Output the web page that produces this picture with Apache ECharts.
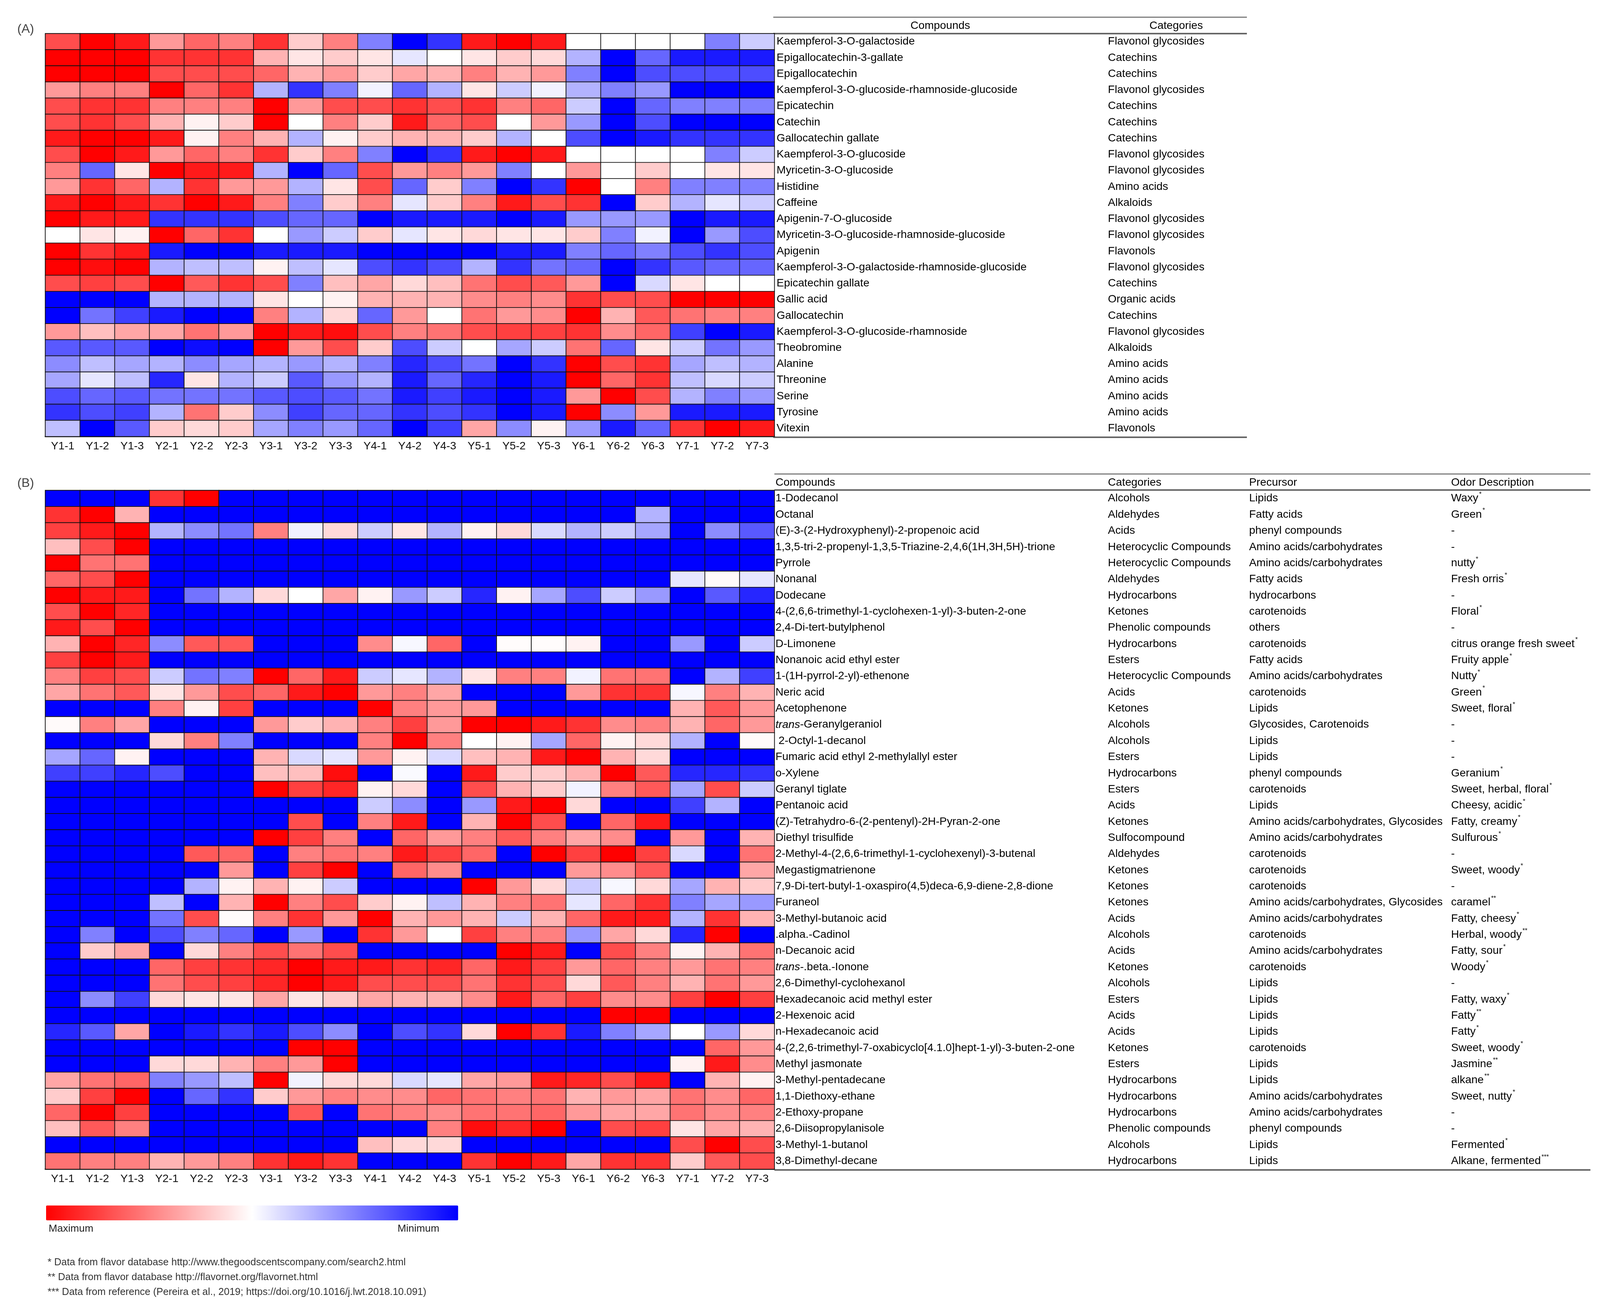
<!DOCTYPE html>
<html>
<head>
<meta charset="utf-8">
<script src="https://cdn.jsdelivr.net/npm/echarts@6/dist/echarts.min.js"></script>
<style>
html,body{margin:0;padding:0;background:#fff;overflow:hidden;}
#chart{position:absolute;left:0;top:0;}
</style>
</head>
<body>
<div id="chart"></div>
<script>
const sampleLabels = ['Y1-1','Y1-2','Y1-3','Y2-1','Y2-2','Y2-3','Y3-1','Y3-2','Y3-3','Y4-1','Y4-2','Y4-3','Y5-1','Y5-2','Y5-3','Y6-1','Y6-2','Y6-3','Y7-1','Y7-2','Y7-3'];

const compoundsA = ['Kaempferol-3-O-galactoside','Epigallocatechin-3-gallate','Epigallocatechin','Kaempferol-3-O-glucoside-rhamnoside-glucoside','Epicatechin','Catechin','Gallocatechin gallate','Kaempferol-3-O-glucoside','Myricetin-3-O-glucoside','Histidine','Caffeine','Apigenin-7-O-glucoside','Myricetin-3-O-glucoside-rhamnoside-glucoside','Apigenin','Kaempferol-3-O-galactoside-rhamnoside-glucoside','Epicatechin gallate','Gallic acid','Gallocatechin','Kaempferol-3-O-glucoside-rhamnoside','Theobromine','Alanine','Threonine','Serine','Tyrosine','Vitexin'];

const categoriesA = ['Flavonol glycosides','Catechins','Catechins','Flavonol glycosides','Catechins','Catechins','Catechins','Flavonol glycosides','Flavonol glycosides','Amino acids','Alkaloids','Flavonol glycosides','Flavonol glycosides','Flavonols','Flavonol glycosides','Catechins','Organic acids','Catechins','Flavonol glycosides','Alkaloids','Amino acids','Amino acids','Amino acids','Amino acids','Flavonols'];

// relative level: +10 = maximum (red), -10 = minimum (blue)
const valuesA = [
 [7,10,9,4,6,5,8,2,5,-5,-10,-8,9,10,9,0,0,0,0,-5,-2],
 [10,10,10,8,8,8,3,1,2,1,-1,0,1,2,1.5,-3,-10,-6,-9,-9,-9],
 [10,10,10,7,7,7,6,3,4,2,3.5,3,5,3,4,-5,-10,-7,-7,-7,-7],
 [4,5,5,10,6,8,-3,-8,-5,-0.5,-6,-3,1,-2,-0.5,-3,-5,-4,-10,-10,-10],
 [7,8,8,5,5,5,10,4,7,7,8,7,8,5,6,-2,-10,-6,-5,-5,-5],
 [7,8,7,3,0.5,2,10,0,5,2,9,6,7,0,4,-4,-10,-7,-10,-10,-10],
 [9,10,10,9,0.5,5,3,-3,0.5,2,3,3,2,-3,0,-7,-10,-9,-8,-8,-8],
 [7,10,9,4,6,5,8,2,5,-5,-10,-8,9,10,9,0,0,0,0,-5,-2],
 [5,-6,1,10,9,9,-3,-10,-6,7,4,5,4,-5,0,4,0,2,0,1,1],
 [4,8,6,-3,8,4,4,-3,1,7,-6,2,-5,-10,-8,10,0,5,-5,-5,-5],
 [9,10,9,8,10,9,5,-5,2,5,-1,2,5,9,7,8,-10,2,-3,-1,-2],
 [10,9,9,-8,-8,-8,-7,-6,-6,-10,-9,-9,-9,-10,-9,-4,-4,-4,-10,-9,-9],
 [0,1,0.5,10,6,8,0,-4,-2,2,-1,1,1.5,1,1,2,-5,-0.5,-10,-4,-7],
 [10,8,9,-9,-10,-10,-9,-9,-9,-10,-10,-10,-10,-9,-9,-5,-6,-5,-7,-8,-7],
 [10,9.5,10,-3,-2.5,-2.5,0.5,-2.5,-1,-7,-8,-7,-3,-8,-5.5,-6,-10,-8,-6.5,-6,-6],
 [7,7.5,7,10,6.5,8,7,-5,2.5,3.5,1.5,2.5,5.5,7,6.5,4,-10,-1.5,1,0,0],
 [-10,-10,-10,-3,-3,-3,1,0,0.5,3,3,3,4.5,5,4.5,8,7,7,10,10,10],
 [-10,-5.5,-7.5,-9,-10,-10,5,-3,1.5,-6,4,0,5.5,4,4.5,10,3,6.5,5.5,5,5],
 [4,2.5,3.5,3.5,5.5,4,10,9,9.5,7,5,5.5,7,7.5,7.5,8,4.5,6,-7.5,-10,-9],
 [-6.5,-6.5,-6.5,-10,-9.5,-10,10,4,7,2,-7,-2,0,-3.5,-2,5.5,-6,1,-2,-5.5,-4],
 [-4.5,-2.5,-3.5,-3,-4.5,-3.5,-3,-4,-3,-5,-8.5,-7,-5.5,-10,-8,10,7,8,-3.5,-2.5,-3],
 [-3.5,-1,-2.5,-8.5,1,-3,-2,-6.5,-4,-3,-9,-6,-8.5,-10,-9,10,6,8,-2.5,-1.5,-2],
 [-7,-6,-6.5,-5.5,-5.5,-5.5,-6.5,-7,-6.5,-5.5,-9,-7.5,-9,-10,-9,4,10,7,-3,-5,-4],
 [-8,-7,-7.5,-3,5.5,2,-4.5,-7.5,-6,-6,-8,-7,-8,-10,-9,10,-4.5,4,-9,-9,-9],
 [-2.5,-10,-6.5,2,1.5,2,-3.5,-5,-4,-6,-10,-7.5,3.5,-4.5,0.5,-4,-9,-6,8,10,9]
];

const compoundsB = ['1-Dodecanol','Octanal','(E)-3-(2-Hydroxyphenyl)-2-propenoic acid','1,3,5-tri-2-propenyl-1,3,5-Triazine-2,4,6(1H,3H,5H)-trione','Pyrrole','Nonanal','Dodecane','4-(2,6,6-trimethyl-1-cyclohexen-1-yl)-3-buten-2-one','2,4-Di-tert-butylphenol','D-Limonene','Nonanoic acid ethyl ester','1-(1H-pyrrol-2-yl)-ethenone','Neric acid','Acetophenone','trans-Geranylgeraniol',' 2-Octyl-1-decanol','Fumaric acid ethyl 2-methylallyl ester','o-Xylene','Geranyl tiglate','Pentanoic acid','(Z)-Tetrahydro-6-(2-pentenyl)-2H-Pyran-2-one','Diethyl trisulfide','2-Methyl-4-(2,6,6-trimethyl-1-cyclohexenyl)-3-butenal','Megastigmatrienone','7,9-Di-tert-butyl-1-oxaspiro(4,5)deca-6,9-diene-2,8-dione','Furaneol','3-Methyl-butanoic acid','.alpha.-Cadinol','n-Decanoic acid','trans-.beta.-Ionone','2,6-Dimethyl-cyclohexanol','Hexadecanoic acid methyl ester','2-Hexenoic acid','n-Hexadecanoic acid','4-(2,2,6-trimethyl-7-oxabicyclo[4.1.0]hept-1-yl)-3-buten-2-one','Methyl jasmonate','3-Methyl-pentadecane','1,1-Diethoxy-ethane','2-Ethoxy-propane','2,6-Diisopropylanisole','3-Methyl-1-butanol','3,8-Dimethyl-decane'];

const categoriesB = ['Alcohols','Aldehydes','Acids','Heterocyclic Compounds','Heterocyclic Compounds','Aldehydes','Hydrocarbons','Ketones','Phenolic compounds','Hydrocarbons','Esters','Heterocyclic Compounds','Acids','Ketones','Alcohols','Alcohols','Esters','Hydrocarbons','Esters','Acids','Ketones','Sulfocompound','Aldehydes','Ketones','Ketones','Ketones','Acids','Alcohols','Acids','Ketones','Alcohols','Esters','Acids','Acids','Ketones','Esters','Hydrocarbons','Hydrocarbons','Hydrocarbons','Phenolic compounds','Alcohols','Hydrocarbons'];

const precursorsB = ['Lipids','Fatty acids','phenyl compounds','Amino acids/carbohydrates','Amino acids/carbohydrates','Fatty acids','hydrocarbons','carotenoids','others','carotenoids','Fatty acids','Amino acids/carbohydrates','carotenoids','Lipids','Glycosides, Carotenoids','Lipids','Lipids','phenyl compounds','carotenoids','Lipids','Amino acids/carbohydrates, Glycosides','Amino acids/carbohydrates','carotenoids','carotenoids','carotenoids','Amino acids/carbohydrates, Glycosides','Amino acids/carbohydrates','carotenoids','Amino acids/carbohydrates','carotenoids','Lipids','Lipids','Lipids','Lipids','carotenoids','Lipids','Lipids','Amino acids/carbohydrates','Amino acids/carbohydrates','phenyl compounds','Lipids','Lipids'];

const odorB = ['Waxy*','Green*','-','-','nutty*','Fresh orris*','-','Floral*','-','citrus orange fresh sweet*','Fruity apple*','Nutty*','Green*','Sweet, floral*','-','-','-','Geranium*','Sweet, herbal, floral*','Cheesy, acidic*','Fatty, creamy*','Sulfurous*','-','Sweet, woody*','-','caramel**','Fatty, cheesy*','Herbal, woody**','Fatty, sour*','Woody*','-','Fatty, waxy*','Fatty**','Fatty*','Sweet, woody*','Jasmine**','alkane**','Sweet, nutty*','-','-','Fermented*','Alkane, fermented***'];

const valuesB = [
 [-10,-10,-10,8,10,-10,-10,-10,-10,-10,-10,-10,-10,-10,-10,-10,-10,-10,-10,-10,-10],
 [8,10,3,-10,-10,-10,-10,-10,-10,-10,-10,-10,-10,-10,-10,-10,-10,-3,-10,-10,-10],
 [7.5,9,10,-3,-4.5,-5.5,5,-0.5,1.5,-2,1,-3,0.5,1.5,-1.5,-3,-2,-3.5,-10,-4.5,-6.5],
 [2.5,7,10,-10,-10,-10,-10,-10,-10,-10,-10,-10,-10,-10,-10,-10,-10,-10,-10,-10,-10],
 [10,5.5,5.5,-10,-10,-10,-10,-10,-10,-10,-10,-10,-10,-10,-10,-10,-10,-10,-10,-10,-10],
 [6,7,10,-10,-10,-10,-10,-10,-10,-10,-10,-10,-10,-10,-10,-10,-10,-10,-1,0.2,-1],
 [10,9,9,-10,-5.5,-3,1.5,0,3.5,0.5,-4,-2,-8.5,0.5,-3.5,-7,-2,-4,-10,-6.5,-8.5],
 [7,10,8.5,-10,-10,-10,-10,-10,-10,-10,-10,-10,-10,-10,-10,-10,-10,-10,-10,-10,-10],
 [9,7,10,-10,-10,-10,-10,-10,-10,-10,-10,-10,-10,-10,-10,-10,-10,-10,-10,-10,-10],
 [3,10,8.5,-4.5,6.5,6.5,-10,-10,-10,4.5,-0.3,6,-10,0.1,0.1,0.5,-10,-10,-4,-10,-2],
 [7.5,10,9,-10,-10,-10,-10,-10,-10,-10,-10,-10,-10,-10,-10,-10,-10,-10,-10,-10,-10],
 [5,7.5,7,-2,-5.5,-5,10,6,9,-2,-1,-3,1,5,5,-0.5,5.5,5.5,-10,-3,-7.5],
 [3.5,5.5,6.5,1,4,7,6,9,10,4,5,3.5,-10,-10,-10,4,8,8,-0.3,5,3],
 [-10,-10,-10,5,0.5,7.5,-10,-10,-10,10,5,4,4,-10,-10,-10,-10,-10,3,6.5,4],
 [0.2,5,3.5,-10,-10,-10,4,2,3,5,7.5,4,10,10,9,8,4.5,5,3,6,4],
 [-10,-10,-10,1.5,5,-5,-10,-10,-10,5,10,5,0,0.5,-3.5,6,0.5,1.5,-3,-10,0.2],
 [-3.5,-6,0.5,-10,-10,-10,3,-1.5,-1,4,0.5,-1.5,2.5,3,9,10,3,1.5,-10,-10,-10],
 [-7.5,-7.5,-8.5,-7,-10,-10,2.5,2.5,9.5,-10,-0.2,-10,9,2,2,3,10,6.5,-8.5,-8.5,-8],
 [-10,-10,-10,-10,-10,-10,10,7.5,8.5,0.5,1.5,-10,7,3,2,-0.5,5,6.5,-3.5,7,-2],
 [-10,-10,-10,-10,-10,-10,-10,-10,-10,-2,-4.5,-10,-4,9,10,1.5,-10,-10,-7.5,-3,-10],
 [-10,-10,-10,-10,-10,-10,-10,7,-10,5,9,-10,3,10,7,-10,6,9,-10,-10,-10],
 [-10,-10,-10,-10,-10,-10,10,7.5,5,-10,6,4,5,6.5,5,3.5,4.5,-10,4,-10,3],
 [-10,-10,-10,-10,6.5,6,-10,5,5.5,5,9,7.5,6,-10,10,7.5,10,7.5,-1.5,-10,5.5],
 [-10,-10,-10,-10,-10,4,-10,7.5,10,-10,6,4.5,-10,-10,-10,4,4.5,6.5,-10,-10,3.5],
 [-10,-10,-10,-10,-3,0.5,3,0.5,-2,-10,-10,-10,10,4,1.5,-2,-0.3,1.5,-3.5,3,2],
 [-10,-10,-10,-2.5,-10,3,10,5,7,2,0.5,-2.5,3,5,5.5,-1,6,8,-5,-3.5,-4],
 [-10,-10,-10,-5.5,7,0.2,5,8,4,10,3,4,3,-2,3,6,9,9,-3,8,3],
 [-10,-5,-10,-7,-5,-6,-10,-4,-10,8,4,0,7.5,5,5,-4,3.5,1.5,-8.5,10,-10],
 [-10,2,3.5,-10,1.5,5,7,5.5,7,-10,-10,-10,-10,10,9,-10,7,5,0.5,3,5.5],
 [-10,-10,-10,6,7.5,8,8.5,10,9,9,8,8.5,6,9,7.5,4,6,5,4,5.5,5],
 [-10,-10,-10,5.5,7,7.5,8.5,10,9,7,7,7,5.5,8,7,1.5,6.5,5,3,5.5,4],
 [-10,-4.5,-7.5,1.5,1,1,3.5,1,2,3.5,3,3,4.5,9,6,7.5,4.5,4.5,7.5,10,7.5],
 [-10,-10,-10,-10,-10,-10,-10,-10,-10,-10,-10,-10,-10,-10,-10,-10,10,10,-10,-10,-10],
 [-8.5,-6.5,3.5,-10,-9,-8,-9,-7,-4.5,-10,-7,-8,1.5,10,8,-9,-5,-3.5,0,-4,1.5],
 [-10,-10,-10,-10,-10,-10,-10,10,10,-10,-10,-10,-10,-10,-10,-10,-10,-10,-10,6,4],
 [-10,-10,-10,1.5,1.5,3,5,4,10,-10,-10,-10,-10,-10,-10,-10,-10,-10,0.5,9,4.5],
 [3.5,5.5,6,-5,-4,-2.5,10,-0.5,1.5,1.5,-1.5,-1,3.5,4,9,8.5,7,9,-10,3,0.5],
 [2,7.5,10,-10,-6,-8,2,4,5,4.5,4.5,6,5.5,5,5.5,3,4,3.5,5.5,4.5,6],
 [6,10,7.5,-10,-10,-10,-10,6.5,-10,5.5,5,4.5,5.5,5.5,6,4,3.5,3.5,5.5,4.5,5],
 [2.5,6.5,5,-10,-10,-10,-10,-10,-10,-10,-10,5,9.5,8.5,10,-10,7,7.5,1,3.5,3],
 [-10,-10,-10,-10,-10,-10,-10,-10,-10,2.5,1.5,1.5,-10,-10,-10,-10,-10,-10,7,10,7],
 [5.5,5,5,3,4,5,8,9,8,-10,-10,-10,8,10,9,3.5,8,8,2,6.5,7]
];

const footnotes = ['* Data from flavor database http://www.thegoodscentscompany.com/search2.html','** Data from flavor database http://flavornet.org/flavornet.html','*** Data from reference (Pereira et al., 2019; https://doi.org/10.1016/j.lwt.2018.10.091)'];

// layout is designed on a 4341 x 3355 canvas and scaled to the actual viewport
const W = window.innerWidth || 4341;
const H = window.innerHeight || 3355;
const KX = W / 4341;
const KY = H / 3355;
const SX = v => v * KX;
const SY = v => v * KY;
const SF = v => v * Math.min(KX, KY);

const FONT = '"Liberation Sans", Arial, sans-serif';
const FS = SF(30);

function toCells(rows){
  const out = [];
  rows.forEach((row, r) => row.forEach((v, c) => out.push([c, r, v])));
  return out;
}
function idx(n){ return Array.from({length:n}, (_, i) => String(i)); }

const richStyles = {
  n: {fontSize: FS, fontFamily: FONT, color: '#000', lineHeight: SY(36)},
  i: {fontSize: FS, fontFamily: FONT, color: '#000', fontStyle: 'italic', lineHeight: SY(36)},
  s: {fontSize: SF(17), fontFamily: FONT, color: '#000', verticalAlign: 'top', lineHeight: SY(36), padding: [0,0,0,SX(2)]}
};
function fmtCompound(name){
  if (name.indexOf('trans') === 0) return '{i|trans}{n|' + name.slice(5) + '}';
  return '{n|' + name + '}';
}
function fmtOdor(t){
  const m = t.match(/^(.*?)(\*+)$/);
  if (m) return '{n|' + m[1] + '}{s|' + m[2] + '}';
  return '{n|' + t + '}';
}

function labelAxis(gridIndex, n, offset, margin, formatter){
  return {
    type: 'category', gridIndex: gridIndex, position: 'right', offset: SX(offset), inverse: true,
    data: idx(n),
    axisLine: {show: false}, axisTick: {show: false}, splitLine: {show: false},
    axisLabel: {interval: 0, align: 'left', margin: SX(margin), fontSize: FS, fontFamily: FONT, color: '#000',
      formatter: formatter, rich: richStyles}
  };
}

const xAxisBase = g => ({
  type: 'category', gridIndex: g, data: sampleLabels, position: 'bottom',
  axisLine: {show: true, lineStyle: {color: '#666', width: SY(4)}},
  axisTick: {show: false}, splitLine: {show: false},
  axisLabel: {interval: 0, fontSize: FS, fontFamily: FONT, color: '#111', margin: SY(11)}
});

const cellStyle = {borderColor: '#111', borderWidth: SF(2)};

const option = {
  animation: false,
  backgroundColor: '#ffffff',
  grid: [
    {left: SX(123), top: SY(86), width: SX(1978), height: SY(1031), containLabel: false},
    {left: SX(123), top: SY(1255), width: SX(1978), height: SY(1737), containLabel: false}
  ],
  xAxis: [xAxisBase(0), xAxisBase(1)],
  yAxis: [
    labelAxis(0, compoundsA.length, 0, 6, (v, i) => fmtCompound(compoundsA[i])),
    labelAxis(0, categoriesA.length, 899, 6, (v, i) => '{n|' + categoriesA[i] + '}'),
    labelAxis(1, compoundsB.length, 0, 3, (v, i) => fmtCompound(compoundsB[i])),
    labelAxis(1, categoriesB.length, 902, 3, (v, i) => '{n|' + categoriesB[i] + '}'),
    labelAxis(1, precursorsB.length, 1285, 3, (v, i) => '{n|' + precursorsB[i] + '}'),
    labelAxis(1, odorB.length, 1833, 3, (v, i) => fmtOdor(odorB[i]))
  ],
  visualMap: {
    type: 'continuous', min: -10, max: 10, seriesIndex: [0, 1],
    orient: 'horizontal', inverse: true, calculable: false, hoverLink: false,
    left: SX(125), top: SY(3085), padding: 0, itemWidth: SY(38), itemHeight: SX(1118),
    inRange: {color: ['#0000ff', '#ffffff', '#ff0000']},
    text: null, showLabel: false
  },
  series: [
    {type: 'heatmap', xAxisIndex: 0, yAxisIndex: 0, data: toCells(valuesA), itemStyle: cellStyle, emphasis: {disabled: true}},
    {type: 'heatmap', xAxisIndex: 1, yAxisIndex: 2, data: toCells(valuesB), itemStyle: cellStyle, emphasis: {disabled: true}}
  ],
  graphic: []
};

function txt(x, y, text, size, align, color){
  return {type: 'text', x: SX(x), y: SY(y), silent: true,
    style: {text: text, fontSize: SF(size), fontFamily: FONT, fill: color || '#000',
      textAlign: align || 'left', textVerticalAlign: 'middle', align: align || 'left', verticalAlign: 'middle'}};
}
function hline(x1, x2, y, w, color){
  return {type: 'line', silent: true, shape: {x1: SX(x1), y1: SY(y), x2: SX(x2), y2: SY(y)}, style: {stroke: color || '#666', lineWidth: SY(w)}};
}

option.graphic.push(
  txt(47, 75, '(A)', 34, 'left', '#444'),
  txt(47, 1237, '(B)', 34, 'left', '#444'),
  hline(2098, 3383, 44, 2.5),
  hline(2098, 3383, 86, 4),
  hline(2098, 3383, 1119, 4),
  txt(2551, 66, 'Compounds', 30, 'center'),
  txt(3191, 66, 'Categories', 30, 'center'),
  hline(2101, 4315, 1213, 2.5),
  hline(2101, 4315, 1254, 4),
  hline(2101, 4315, 2994, 4),
  txt(2104, 1235, 'Compounds', 30, 'left'),
  txt(3006, 1235, 'Categories', 30, 'left'),
  txt(3389, 1235, 'Precursor', 30, 'left'),
  txt(3937, 1235, 'Odor Description', 30, 'left'),
  txt(132, 3145, 'Maximum', 28, 'left', '#222'),
  txt(1192, 3145, 'Minimum', 28, 'right', '#222'),
  txt(129, 3231, footnotes[0], 27, 'left', '#333'),
  txt(129, 3269, footnotes[1], 27, 'left', '#333'),
  txt(129, 3307, footnotes[2], 27, 'left', '#333')
);

const el = document.getElementById('chart');
el.style.width = W + 'px';
el.style.height = H + 'px';
const chart = echarts.init(el, null, {renderer: 'canvas', width: W, height: H});
chart.setOption(option);
</script>
</body>
</html>
